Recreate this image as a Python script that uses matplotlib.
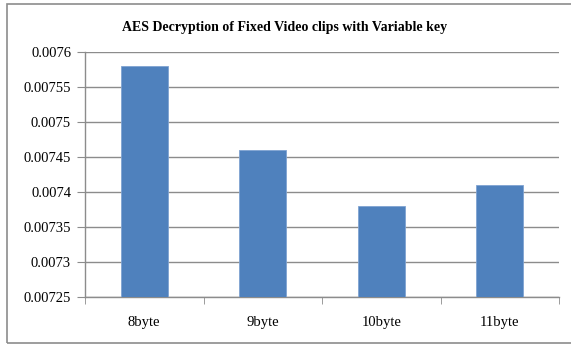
import matplotlib
matplotlib.use("Agg")
import matplotlib.pyplot as plt
from matplotlib.patches import Rectangle
import numpy as np

categories = ["8byte", "9byte", "10byte", "11byte"]
values = [0.00758, 0.00746, 0.00738, 0.00741]
yticks = [0.00725, 0.0073, 0.00735, 0.0074, 0.00745, 0.0075, 0.00755, 0.0076]
ytick_labels = ["0.00725", "0.0073", "0.00735", "0.0074", "0.00745", "0.0075", "0.00755", "0.0076"]
title = "AES Decryption of Fixed Video clips with Variable key"

plt.rcParams["font.family"] = ["Liberation Serif", "DejaVu Serif"]

W, H = 571, 346
fig = plt.figure(figsize=(W / 100, H / 100), dpi=100)

# chart frame (right edge runs past the canvas)
fig.patches.append(Rectangle((7 / W, 1 - 343 / H), (580 - 7) / W, (343 - 4) / H,
                             transform=fig.transFigure, fill=False,
                             edgecolor="#8c8c8c", linewidth=1.2, clip_on=False))

left, right, top, bottom = 85, 559, 52, 297
ax = fig.add_axes([left / W, 1 - bottom / H, (right - left) / W, (bottom - top) / H])

x = np.arange(len(categories))
ax.bar(x, values, width=0.4, color="#4F81BD", edgecolor="#7FA3D2", linewidth=0.6, zorder=3)

ax.set_xlim(-0.5, len(categories) - 0.5)
ax.set_ylim(yticks[0], yticks[-1])
ax.set_yticks(yticks)
ax.set_yticklabels(ytick_labels, fontsize=10.5)
ax.yaxis.grid(True, color="#8c8c8c", linewidth=1.0, zorder=0)

ax.set_xticks(x)
ax.set_xticklabels(categories, fontsize=10.5)
ax.tick_params(axis="x", length=0, pad=14)
ax.set_xticks(np.arange(-0.5, len(categories)), minor=True)
ax.tick_params(axis="x", which="minor", length=5, color="#8c8c8c", direction="out")
ax.tick_params(axis="y", length=6, color="#8c8c8c", direction="out", pad=4)

for s in ["top", "right"]:
    ax.spines[s].set_visible(False)
for s in ["left", "bottom"]:
    ax.spines[s].set_color("#8c8c8c")
    ax.spines[s].set_linewidth(1.0)

fig.text(285 / W, 1 - 27 / H, title, ha="center", va="center",
         fontsize=10, fontweight="bold")

fig.savefig("out.png", dpi=100)
